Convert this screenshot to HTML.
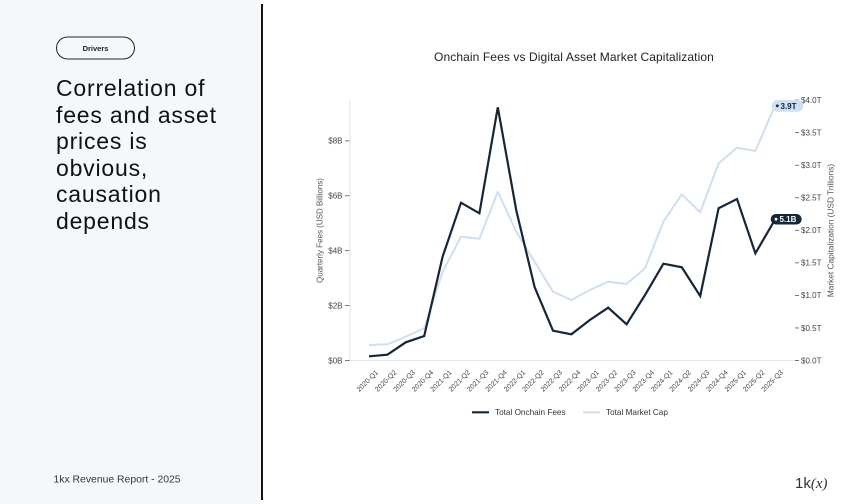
<!DOCTYPE html>
<html><head><meta charset="utf-8"><style>
html,body{margin:0;padding:0;background:#fff;}
body{width:860px;height:504px;overflow:hidden;position:relative;font-family:"Liberation Sans",sans-serif;}
svg{position:absolute;left:0;top:0;}
.head{position:absolute;left:56px;top:75px;font-size:23px;line-height:26.6px;letter-spacing:0.8px;color:#111;font-family:"Liberation Sans",sans-serif;}
</style></head><body>
<svg width="860" height="504" viewBox="0 0 860 504" xmlns="http://www.w3.org/2000/svg" font-family="Liberation Sans, sans-serif">
<rect x="0" y="0" width="262" height="504" fill="#f5f8fb"/>
<rect x="261" y="4" width="2" height="496" fill="#151515"/>
<!-- pill -->
<rect x="56.5" y="37" width="78" height="22" rx="11" fill="none" stroke="#222" stroke-width="1"/>
<text x="95.5" y="50.8" font-size="7.5" font-weight="bold" text-anchor="middle" fill="#222">Drivers</text>
<!-- footer -->
<text x="53.5" y="482.7" font-size="10.4" fill="#333">1kx Revenue Report  - 2025</text>
<text x="795" y="488" font-size="15" fill="#333">1k<tspan font-family="Liberation Serif, serif" font-style="italic">(x)</tspan></text>

<!-- title -->
<text x="574" y="61.2" font-size="12" letter-spacing="0.1" text-anchor="middle" fill="#222">Onchain Fees vs Digital Asset Market Capitalization</text>

<!-- axes -->
<line x1="350" y1="100" x2="350" y2="360.5" stroke="#e6e6e6" stroke-width="1"/>
<line x1="350" y1="360.5" x2="795" y2="360.5" stroke="#e6e6e6" stroke-width="1"/>

<g stroke="#555" stroke-width="0.8">
<line x1="345" y1="360.5" x2="349.5" y2="360.5"/>
<line x1="345" y1="305.6" x2="349.5" y2="305.6"/>
<line x1="345" y1="250.7" x2="349.5" y2="250.7"/>
<line x1="345" y1="195.8" x2="349.5" y2="195.8"/>
<line x1="345" y1="140.9" x2="349.5" y2="140.9"/>
</g>
<g font-size="8" fill="#444" text-anchor="end">
<text x="342.5" y="363.3">$0B</text>
<text x="342.5" y="308.4">$2B</text>
<text x="342.5" y="253.5">$4B</text>
<text x="342.5" y="198.6">$6B</text>
<text x="342.5" y="143.7">$8B</text>
</g>

<g stroke="#555" stroke-width="0.8">
<line x1="795" y1="360.5" x2="799" y2="360.5"/>
<line x1="795" y1="327.95" x2="799" y2="327.95"/>
<line x1="795" y1="295.4" x2="799" y2="295.4"/>
<line x1="795" y1="262.85" x2="799" y2="262.85"/>
<line x1="795" y1="230.3" x2="799" y2="230.3"/>
<line x1="795" y1="197.75" x2="799" y2="197.75"/>
<line x1="795" y1="165.2" x2="799" y2="165.2"/>
<line x1="795" y1="132.65" x2="799" y2="132.65"/>
<line x1="795" y1="100.1" x2="799" y2="100.1"/>
</g>
<g font-size="8" fill="#444">
<text x="801" y="363.3">$0.0T</text>
<text x="801" y="330.75">$0.5T</text>
<text x="801" y="298.2">$1.0T</text>
<text x="801" y="265.65">$1.5T</text>
<text x="801" y="233.1">$2.0T</text>
<text x="801" y="200.55">$2.5T</text>
<text x="801" y="168">$3.0T</text>
<text x="801" y="135.45">$3.5T</text>
<text x="801" y="102.9">$4.0T</text>
</g>

<text transform="translate(322.5,230.5) rotate(-90)" font-size="8" fill="#555" text-anchor="middle">Quarterly Fees (USD Billions)</text>
<text transform="translate(833.5,230.5) rotate(-90)" font-size="8.3" fill="#555" text-anchor="middle">Market Capitalization (USD Trillions)</text>

<!-- x labels -->
<g font-size="7" fill="#444" text-anchor="middle">
<text transform="translate(369,382.5) rotate(-45)">2020-Q1</text>
<text transform="translate(387.4,382.5) rotate(-45)">2020-Q2</text>
<text transform="translate(405.8,382.5) rotate(-45)">2020-Q3</text>
<text transform="translate(424.2,382.5) rotate(-45)">2020-Q4</text>
<text transform="translate(442.6,382.5) rotate(-45)">2021-Q1</text>
<text transform="translate(461,382.5) rotate(-45)">2021-Q2</text>
<text transform="translate(479.4,382.5) rotate(-45)">2021-Q3</text>
<text transform="translate(497.8,382.5) rotate(-45)">2021-Q4</text>
<text transform="translate(516.2,382.5) rotate(-45)">2022-Q1</text>
<text transform="translate(534.6,382.5) rotate(-45)">2022-Q2</text>
<text transform="translate(553,382.5) rotate(-45)">2022-Q3</text>
<text transform="translate(571.4,382.5) rotate(-45)">2022-Q4</text>
<text transform="translate(589.8,382.5) rotate(-45)">2023-Q1</text>
<text transform="translate(608.2,382.5) rotate(-45)">2023-Q2</text>
<text transform="translate(626.6,382.5) rotate(-45)">2023-Q3</text>
<text transform="translate(645,382.5) rotate(-45)">2023-Q4</text>
<text transform="translate(663.4,382.5) rotate(-45)">2024-Q1</text>
<text transform="translate(681.8,382.5) rotate(-45)">2024-Q2</text>
<text transform="translate(700.2,382.5) rotate(-45)">2024-Q3</text>
<text transform="translate(718.6,382.5) rotate(-45)">2024-Q4</text>
<text transform="translate(737,382.5) rotate(-45)">2025-Q1</text>
<text transform="translate(755.4,382.5) rotate(-45)">2025-Q2</text>
<text transform="translate(773.8,382.5) rotate(-45)">2025-Q3</text>
</g>

<!-- market cap line -->
<polyline fill="none" stroke="#cfdff1" stroke-width="2" stroke-linejoin="round" points="369,345 387.4,344.3 405.8,336.7 424.2,328.3 442.6,271.7 461,236.7 479.4,238.7 497.8,191.7 516.2,231.7 534.6,261.7 553,291.7 571.4,300 589.8,290 608.2,281.7 626.6,284 645,268.3 663.4,221.7 681.8,194.3 700.2,212.3 718.6,163.3 737,147.7 755.4,151 773.8,108.3"/>
<!-- fees line -->
<polyline fill="none" stroke="#13263a" stroke-width="2.2" stroke-linejoin="miter" points="369,356.3 387.4,354.7 405.8,342.3 424.2,336 442.6,256.7 461,202.7 479.4,213.3 497.8,107.3 516.2,210 534.6,287 553,330.7 571.4,334.3 589.8,320 608.2,307.7 626.6,324.3 645,295 663.4,263.7 681.8,267.3 700.2,296 718.6,208.3 737,199 755.4,253.3 773.8,221.7"/>

<!-- end labels -->
<rect x="771.7" y="100" width="31.6" height="11.7" rx="5.8" fill="#cfe0f3"/>
<circle cx="777.3" cy="105.8" r="1.4" fill="#13263a"/>
<text x="780.5" y="108.8" font-size="8" font-weight="bold" fill="#13263a">3.9T</text>
<rect x="770.7" y="214" width="31" height="10.5" rx="5.2" fill="#13263a"/>
<circle cx="776" cy="219.2" r="1.4" fill="#fff"/>
<text x="779.5" y="222.1" font-size="8" font-weight="bold" fill="#fff">5.1B</text>

<!-- legend -->
<line x1="472" y1="412.3" x2="489" y2="412.3" stroke="#13263a" stroke-width="2.2"/>
<text x="495" y="415.2" font-size="8.2" fill="#333">Total Onchain Fees</text>
<line x1="583" y1="412.3" x2="600" y2="412.3" stroke="#cfdff1" stroke-width="2.2"/>
<text x="606" y="415.2" font-size="8.2" fill="#333">Total Market Cap</text>
</svg>
<div class="head">Correlation of<br>fees and asset<br>prices is<br>obvious,<br>causation<br>depends</div>
</body></html>
